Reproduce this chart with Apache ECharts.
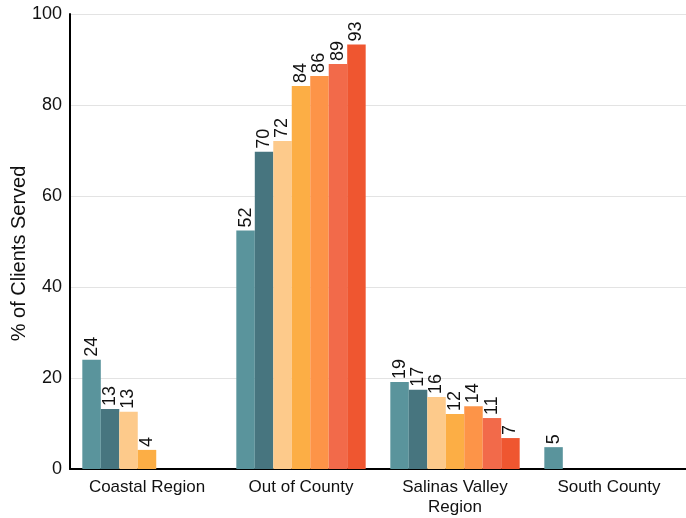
<!DOCTYPE html>
<html>
<head>
<meta charset="utf-8">
<script src="https://cdn.jsdelivr.net/npm/echarts@6/dist/echarts.min.js"></script>
<style>
  html, body { margin: 0; padding: 0; background: #fff; }
  #chart { width: 686px; height: 518px; }
</style>
</head>
<body>
<div id="chart"></div>
<script>
// categories
var regions = ['Coastal Region', 'Out of County', 'Salinas Valley\nRegion', 'South County'];

// one series per bar colour
var s1 = [24.0, 52.4, 19.1, 4.8];
var s2 = [13.2, 69.7, 17.4, null];
var s3 = [12.6, 72.1, 15.8, null];
var s4 = [4.2, 84.2, 12.1, null];
var s5 = [null, 86.4, 13.8, null];
var s6 = [null, 89.0, 11.2, null];
var s7 = [null, 93.3, 6.8, null];

var colors = ['#5a949c', '#47757f', '#fdca8b', '#fcae45', '#fd9448', '#f26a4a', '#ef5630'];
var font = 'Liberation Sans, Arial, sans-serif';

var chart = echarts.init(document.getElementById('chart'));

var makeSeries = function (data, i) {
  return {
    type: 'bar',
    data: data,
    barGap: '0%',
    barCategoryGap: '16%',
    itemStyle: { color: colors[i] },
    label: {
      show: true,
      position: 'top',
      rotate: 90,
      align: 'left',
      verticalAlign: 'middle',
      distance: 3,
      color: '#111',
      fontSize: 18,
      fontFamily: font,
      formatter: function (p) { return Math.round(p.value); }
    }
  };
};

var option = {
  animation: false,
  grid: { left: 70, right: 0, top: 14, bottom: 49, outerBoundsMode: 'none' },
  xAxis: {
    type: 'category',
    data: regions,
    axisLine: { lineStyle: { color: '#000', width: 2 } },
    axisTick: { show: false },
    axisLabel: {
      color: '#111',
      fontSize: 17,
      fontFamily: font,
      margin: 8,
      lineHeight: 20
    }
  },
  yAxis: {
    type: 'value',
    min: 0,
    max: 100,
    interval: 20,
    name: '% of Clients Served',
    nameLocation: 'middle',
    nameGap: 41,
    nameMoveOverlap: false,
    nameTextStyle: {
      color: '#111',
      fontSize: 20,
      fontFamily: font,
      padding: [0, 24, 0, 0]
    },
    axisLine: { show: true, lineStyle: { color: '#000', width: 2 } },
    axisTick: { show: false },
    axisLabel: {
      color: '#111',
      fontSize: 18,
      fontFamily: font,
      margin: 8
    },
    splitLine: { lineStyle: { color: '#e3e3e3', width: 1 } }
  },
  series: [s1, s2, s3, s4, s5, s6, s7].map(makeSeries)
};

chart.setOption(option);
</script>
</body>
</html>
